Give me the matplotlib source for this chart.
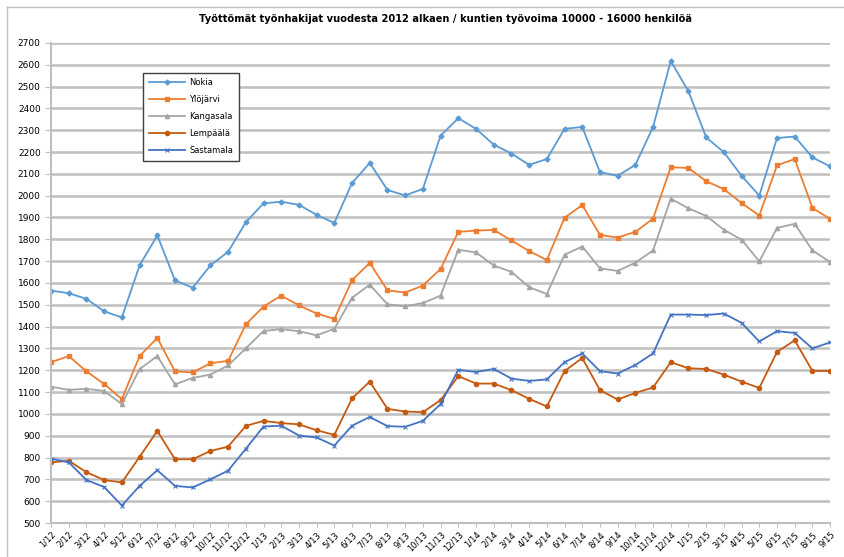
import matplotlib.pyplot as plt
import numpy as np

months = [f"{m}/{y}" for y in (12, 13, 14) for m in range(1, 13)] + [f"{m}/15" for m in range(1, 10)]

nokia = [1565, 1553, 1527, 1470, 1442, 1680, 1818, 1612, 1578, 1680, 1743, 1878,
         1965, 1972, 1958, 1912, 1875, 2058, 2150, 2026, 2001, 2031, 2275, 2355,
         2306, 2234, 2193, 2141, 2168, 2306, 2315, 2108, 2091, 2141, 2315, 2617,
         2478, 2267, 2199, 2091, 2000, 2264, 2271, 2175, 2134]
ylojarvi = [1237, 1265, 1195, 1137, 1068, 1265, 1348, 1195, 1190, 1232, 1243, 1410,
            1492, 1542, 1497, 1460, 1435, 1613, 1692, 1566, 1556, 1588, 1664, 1834,
            1840, 1843, 1795, 1746, 1705, 1899, 1957, 1820, 1808, 1834, 1895, 2130,
            2127, 2066, 2030, 1966, 1909, 2139, 2168, 1944, 1893]
kangasala = [1125, 1110, 1115, 1105, 1045, 1205, 1265, 1135, 1165, 1180, 1222, 1300,
             1380, 1388, 1379, 1360, 1390, 1532, 1592, 1502, 1493, 1508, 1542, 1752,
             1740, 1680, 1651, 1581, 1549, 1729, 1767, 1667, 1655, 1693, 1749, 1986,
             1942, 1907, 1844, 1798, 1699, 1852, 1871, 1749, 1696]
lempaala = [778, 785, 733, 697, 686, 803, 922, 792, 792, 830, 850, 945,
            968, 958, 952, 925, 904, 1071, 1148, 1023, 1011, 1008, 1063, 1173,
            1139, 1139, 1109, 1069, 1034, 1196, 1256, 1109, 1066, 1096, 1121, 1237,
            1209, 1206, 1180, 1148, 1119, 1284, 1337, 1197, 1197]
sastamala = [795, 778, 697, 665, 580, 670, 742, 670, 663, 700, 740, 840,
             942, 946, 901, 892, 855, 946, 986, 944, 941, 968, 1045, 1202,
             1192, 1206, 1162, 1151, 1158, 1237, 1277, 1196, 1185, 1224, 1277, 1455,
             1455, 1453, 1460, 1417, 1332, 1379, 1371, 1300, 1328]

x = np.arange(len(months))

fig = plt.figure(figsize=(8.45, 5.57), dpi=100)
# outer chart frame (only left and top edges visible in the crop)
fig.add_artist(plt.Line2D([0.0083, 0.0083], [0, 0.987], transform=fig.transFigure, color='#BFBFBF', lw=1))
fig.add_artist(plt.Line2D([0.0083, 1], [0.987, 0.987], transform=fig.transFigure, color='#BFBFBF', lw=1))

ax = fig.add_axes([0.0604, 0.061, 0.922, 0.862])

ax.plot(x, nokia, color='#5B9BD5', lw=1.3, marker='D', ms=2.5, label='Nokia')
ax.plot(x, ylojarvi, color='#ED7D31', lw=1.3, marker='s', ms=2.2, label='Ylöjärvi')
ax.plot(x, kangasala, color='#A5A5A5', lw=1.3, marker='^', ms=3, label='Kangasala')
ax.plot(x, lempaala, color='#C55A11', lw=1.3, marker='o', ms=3, label='Lempäälä')
ax.plot(x, sastamala, color='#4472C4', lw=1.3, marker='x', ms=3.5, mew=0.8, label='Sastamala')

ax.set_xlim(0, len(months) - 1)
ax.set_ylim(500, 2700)
ax.set_yticks(np.arange(500, 2701, 100))
ax.set_xticks(x)
ax.set_xticklabels(months, rotation=45, ha='right', rotation_mode='anchor')
ax.tick_params(axis='x', labelsize=6, length=3, color='#BFBFBF', pad=2)
ax.tick_params(axis='y', labelsize=6.5, length=4, color='#BFBFBF')
ax.grid(axis='y', color='#BFBFBF', lw=1.8)
ax.set_axisbelow(True)
for s in ['top', 'right']:
    ax.spines[s].set_visible(False)
ax.spines['left'].set_color('#BFBFBF')
ax.spines['bottom'].set_color('#BFBFBF')
ax.spines['left'].set_linewidth(1.5)
ax.spines['bottom'].set_linewidth(1.5)

fig.text(0.527, 0.965, 'Työttömät työnhakijat vuodesta 2012 alkaen / kuntien työvoima 10000 - 16000 henkilöä',
         ha='center', va='center', fontsize=7.1, fontweight='bold')

leg = ax.legend(loc='upper left', bbox_to_anchor=(0.1125, 0.947), fontsize=6, frameon=True, fancybox=False,
                edgecolor='#404040', framealpha=1, handlelength=4.4, labelspacing=0.95, borderpad=0.7,
                handletextpad=0.5)
leg.get_frame().set_linewidth(1)

plt.savefig('out.png', dpi=100)
